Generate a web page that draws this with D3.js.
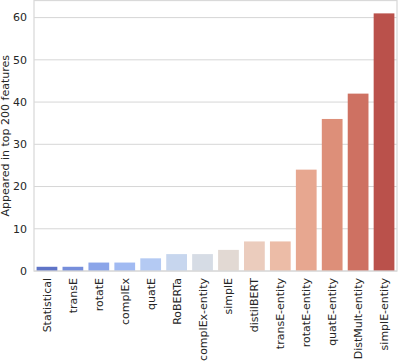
<!DOCTYPE html>
<html>
<head>
<meta charset="utf-8">
<script src="https://cdn.jsdelivr.net/npm/d3@7"></script>
<style>
  body { margin: 0; background: #fff; }
  svg text { font-family: "DejaVu Sans", sans-serif; fill: #262626; }
</style>
</head>
<body>
<svg id="chart" width="398" height="363"></svg>
<script>
const models = ['Statistical', 'transE', 'rotatE', 'complEx', 'quatE', 'RoBERTa', 'complEx-entity',
    'simplE', 'distilBERT', 'transE-entity', 'rotatE-entity', 'quatE-entity', 'DistMult-entity', 'simplE-entity'];
const counts = [1, 1, 2, 2, 3, 4, 4, 5, 7, 7, 24, 36, 42, 61];
const yTicks = [0, 10, 20, 30, 40, 50, 60];

// coolwarm stops (matplotlib), sampled like seaborn then desaturated
const coolwarm = ['#3b4cc0', '#445acc', '#4d68d7', '#5775e1', '#6282ea', '#6c8ef1', '#779af7', '#82a5fb',
    '#8db0fe', '#98b9ff', '#a3c2ff', '#aec9fd', '#b8d0f9', '#c2d5f4', '#ccd9ee', '#d5dbe6', '#dddddd',
    '#e5d8d1', '#ecd3c5', '#f1ccb8', '#f5c4ac', '#f7bba0', '#f7b194', '#f7a687', '#f49a7b', '#f18d6f',
    '#ec7f63', '#e57058', '#de604d', '#d55042', '#cb3e38', '#c0282f', '#b40426'];
const cmap = d3.scaleLinear().domain(d3.range(coolwarm.length).map(i => i / (coolwarm.length - 1)))
    .range(coolwarm).interpolate(d3.interpolateRgb);

function barColor(i) {
    let c = d3.hsl(cmap((i + 1) / (models.length + 1)));
    c.s *= 0.75;
    return c.formatHex();
}

const svg = d3.select('#chart');
const margin = {left: 34, right: 1, top: 0.5, bottom: 92};
const W = 398, H = 363;
const fs = 11;

const x = d3.scaleBand().domain(models).range([margin.left, W - margin.right]).paddingInner(0.2).paddingOuter(0.1);
const y = d3.scaleLinear().domain([0, 61 * 1.05]).range([H - margin.bottom, margin.top]);

// grid
svg.append('g').selectAll('line').data(yTicks).enter().append('line')
    .attr('x1', margin.left).attr('x2', W - margin.right)
    .attr('y1', d => y(d)).attr('y2', d => y(d))
    .attr('stroke', '#d6d6d6').attr('stroke-width', 1);

// bars
svg.append('g').selectAll('rect').data(models).enter().append('rect')
    .attr('x', d => x(d))
    .attr('width', x.bandwidth())
    .attr('y', (d, i) => y(counts[i]))
    .attr('height', (d, i) => y(0) - y(counts[i]))
    .attr('fill', (d, i) => barColor(i));

// frame
svg.append('rect')
    .attr('x', margin.left).attr('y', margin.top)
    .attr('width', W - margin.right - margin.left).attr('height', y(0) - margin.top)
    .attr('fill', 'none').attr('stroke', '#d9d9d9').attr('stroke-width', 1.25);

// y tick labels
svg.append('g').selectAll('text').data(yTicks).enter().append('text')
    .attr('x', margin.left - 7).attr('y', d => y(d)).attr('dy', '0.35em')
    .attr('text-anchor', 'end').attr('font-size', fs)
    .text(d => d);

// x tick labels
svg.append('g').selectAll('text').data(models).enter().append('text')
    .attr('transform', d => `translate(${x(d) + x.bandwidth() / 2 + 4},${y(0) + 7}) rotate(-90)`)
    .attr('text-anchor', 'end').attr('font-size', fs)
    .text(d => d);

svg.append('text')
    .attr('transform', `translate(9,${(y(0) + margin.top) / 2}) rotate(-90)`)
    .attr('text-anchor', 'middle').attr('font-size', fs)
    .text('Appeared in top 200 features');
</script>
</body>
</html>
